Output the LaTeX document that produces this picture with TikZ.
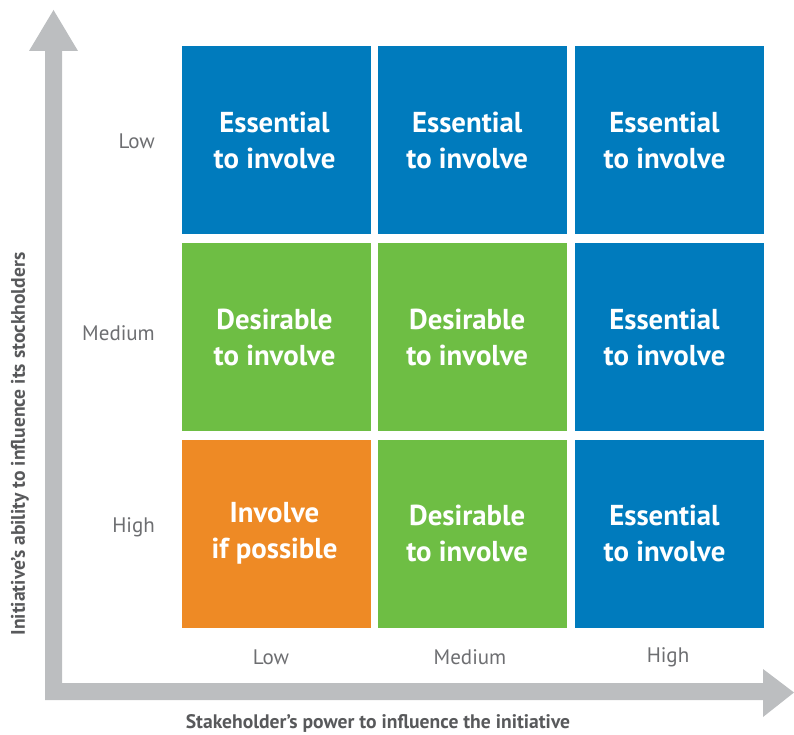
\documentclass[tikz,border=0pt]{standalone}
\usepackage{fontspec}
\setmainfont{PT Sans}
\definecolor{cblue}{HTML}{007BBD}
\definecolor{cgreen}{HTML}{6EBE44}
\definecolor{corange}{HTML}{EE8A25}
\definecolor{axisgray}{HTML}{BCBEC0}
\definecolor{labelgray}{HTML}{6D6E71}
\definecolor{titlegray}{HTML}{58595B}
\begin{document}
\begin{tikzpicture}[x=1pt,y=-1pt,
  cell/.style={minimum width=189pt,minimum height=188pt,inner sep=0pt,draw=none},
  essential/.style={cell,fill=cblue},
  desirable/.style={cell,fill=cgreen},
  possible/.style={cell,fill=corange},
  celltext/.style={text=white,align=center,inner sep=0pt,font=\bfseries\fontsize{28.8}{36}\selectfont},
  lvl/.style={text=labelgray,inner sep=0pt,font=\fontsize{21}{24}\selectfont},
  axtitle/.style={text=titlegray,inner sep=0pt,font=\bfseries\fontsize{19.6}{22}\selectfont}]
\useasboundingbox (0,0) rectangle (794,735);
% axes
\fill[axisgray] (45,700) -- (45,51) -- (29,51) -- (53.5,10) -- (78,51) -- (62,51)
  -- (62,683) -- (763,683) -- (763,669) -- (794,692.5) -- (763,717) -- (763,700) -- cycle;
% cells
\node[essential] (c11) at (276.5,140) {};
\node[essential] (c12) at (472.2,140) {};
\node[essential] (c13) at (669.5,140) {};
\node[desirable] (c21) at (276.5,337) {};
\node[desirable] (c22) at (472.2,337) {};
\node[essential] (c23) at (669.5,337) {};
\node[possible] (c31) at (276.5,533.5) {};
\node[desirable] (c32) at (472.2,533.5) {};
\node[essential] (c33) at (669.5,533.5) {};
% cell texts
\node[celltext] (t11) at ([xshift=-2pt]c11.center) {Essential\\to involve};
\node[celltext] (t12) at ([xshift=-5pt]c12.center) {Essential\\to involve};
\node[celltext] (t13) at ([xshift=-5pt]c13.center) {Essential\\to involve};
\node[celltext] (t21) at ([xshift=-2pt]c21.center) {Desirable\\to involve};
\node[celltext] (t22) at ([xshift=-5pt]c22.center) {Desirable\\to involve};
\node[celltext] (t23) at ([xshift=-5pt]c23.center) {Essential\\to involve};
\node[celltext] (t31) at ([xshift=-2pt]c31.center) {Involve\\if possible};
\node[celltext] (t32) at ([xshift=-5pt]c32.center) {Desirable\\to involve};
\node[celltext] (t33) at ([xshift=-5pt]c33.center) {Essential\\to involve};
% row labels
\node[lvl,anchor=east] (rlow) at (155,141) {Low};
\node[lvl,anchor=east] (rmed) at (155,333) {Medium};
\node[lvl,anchor=east] (rhigh) at (155,527) {High};
% column labels
\node[lvl] (clow) at (271,657) {Low};
\node[lvl] (cmed) at (470,657) {Medium};
\node[lvl] (chigh) at (668,657) {High};
% axis titles
\node[axtitle,rotate=90] (ytitle) at (20,444) {Initiative’s ability to influence its stockholders};
\node[axtitle] (xtitle) at (378,723) {Stakeholder’s power to influence the initiative};
\end{tikzpicture}
\end{document}
